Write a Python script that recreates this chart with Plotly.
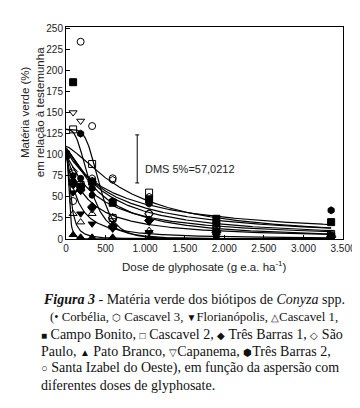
import numpy as np
import plotly.graph_objects as go

# ---- data ----
doses = [0, 90, 185, 330, 590, 1050, 1900, 3350]

biotypes = ["Corbélia", "Cascavel 3", "Florianópolis", "Cascavel 1", "Campo Bonito",
            "Cascavel 2", "Três Barras 1", "São Paulo", "Pato Branco", "Capanema",
            "Três Barras 2", "Santa Izabel do Oeste"]

corbelia      = [100, 75, 72, 52, 44, 47, 10, 5]
cascavel3     = [100, 78, 60, 72, 70, 50, 12, 6]
florianopolis = [100, 55, 30, 18, 12, 8, 4, 2]
cascavel1     = [100, 30, 20, 30, 14, 10, 2, 1]
campo_bonito  = [100, 186, 62, 68, 43, 47, 24, 20]
cascavel2     = [100, 130, 64, 89, 25, 55, 16, 6]
tres_barras1  = [100, 65, 58, 38, 15, 22, 8, 3]
sao_paulo     = [100, 80, 62, 68, 25, 30, 10, 2]
pato_branco   = [100, 5, 2, 2, 2, 1, 1, 0]
capanema      = [100, 150, 140, 35, 22, 20, 6, 4]
tres_barras2  = [100, 68, 125, 60, 45, 42, 18, 34]
santa_izabel  = [100, 45, 234, 134, 72, 30, 14, 2]

# fitted log-logistic curves y = a / (1 + (x/x50)^b)
fit_a   = [100, 108, 100, 100, 105, 110, 100, 105, 100, 130, 108, 130]
fit_x50 = [400, 500, 130, 60, 650, 800, 250, 450, 40, 300, 550, 420]
fit_b   = [1.1, 1.2, 1.3, 2.0, 1.0, 1.4, 1.1, 1.4, 3.0, 3.0, 1.1, 4.5]

dms_dose = 900
dms_low, dms_value = 66.5, 57.0212

series = [corbelia, cascavel3, florianopolis, cascavel1, campo_bonito, cascavel2,
          tres_barras1, sao_paulo, pato_branco, capanema, tres_barras2, santa_izabel]
symbols = ["circle", "hexagon-open", "triangle-down", "triangle-up-open", "square",
           "square-open", "diamond", "diamond-open", "triangle-up", "triangle-down-open",
           "hexagon", "circle-open"]
sizes = [6, 7, 7, 7, 7, 7, 7, 7, 7, 7, 7, 7]

fig = go.Figure()
xs = np.linspace(0, 3350, 400)
for a, x50, b in zip(fit_a, fit_x50, fit_b):
    ys = a / (1 + (xs / x50) ** b)
    fig.add_trace(go.Scatter(x=xs, y=ys, mode="lines",
                             line=dict(color="black", width=1.2),
                             hoverinfo="skip", showlegend=False))
for name, vals, sym_, sz in zip(biotypes, series, symbols, sizes):
    fig.add_trace(go.Scatter(x=doses, y=vals, mode="markers", name=name,
                             marker=dict(symbol=sym_, size=sz, color="black",
                                         line=dict(color="black", width=1)),
                             showlegend=False))

# DMS bar
fig.add_trace(go.Scatter(x=[dms_dose, dms_dose], y=[dms_low, dms_low + dms_value],
                         mode="lines", line=dict(color="black", width=1),
                         showlegend=False, hoverinfo="skip"))
for yv in [dms_low, dms_low + dms_value]:
    fig.add_shape(type="line", xref="x", yref="y", x0=dms_dose - 25, x1=dms_dose + 25,
                  y0=yv, y1=yv, line=dict(color="black", width=1))
fig.add_annotation(x=dms_dose + 70, y=dms_low + dms_value / 2 - 12, xref="x", yref="y",
                   text="DMS 5%=57,0212", showarrow=False, xanchor="left",
                   font=dict(family="Liberation Sans, Arial", size=11, color="#222"))

axis_font = dict(family="Liberation Sans, Arial", size=10, color="#222")
fig.update_xaxes(range=[0, 3500], tick0=0, dtick=500, separatethousands=True,
                 showline=True, linecolor="black", linewidth=1, mirror=True,
                 ticks="inside", ticklen=4, tickcolor="black", showgrid=False,
                 zeroline=False, tickfont=axis_font)
fig.update_yaxes(range=[0, 251.5], tick0=0, dtick=25,
                 showline=True, linecolor="black", linewidth=1, mirror=True,
                 ticks="inside", ticklen=4, tickcolor="black", showgrid=False,
                 zeroline=False, tickfont=axis_font)

fig.add_annotation(xref="paper", yref="paper", x=0.5, y=-0.085,
                   text="Dose de glyphosate (g e.a. ha<sup>-1</sup>)", showarrow=False,
                   yanchor="top", font=dict(family="Liberation Sans, Arial", size=11.5, color="#222"))
fig.add_annotation(xref="paper", yref="paper", x=(23.5 - 58) / (342.5 - 58), y=0.6,
                   xanchor="center", yanchor="middle",
                   text="Matéria verde (%)<br>em relação à testemunha", showarrow=False,
                   textangle=-90, font=dict(family="Liberation Sans, Arial", size=11.5, color="#222"))

def sym(ch, size=10):
    return '<span style="font-size:%dpx">%s</span>' % (size, ch)

caption = [
    (32, 14, "<b><i>Figura 3</i></b> - Matéria verde dos biótipos de <i>Conyza</i> spp."),
    (40, 12.8, "(" + sym("•", 12) + " Corbélia, " + sym("⬡") + " Cascavel 3, " + sym("▼") + "Florianópolis, "
         + sym("△") + "Cascavel 1,"),
    (30, 14, sym("■") + " Campo Bonito, " + sym("□") + " Cascavel 2, " + sym("◆") + " Três Barras 1, "
         + sym("◇") + " São"),
    (30, 14, "Paulo, " + sym("▲") + " Pato Branco, " + sym("▽") + "Capanema, " + sym("⬢") + "Três Barras 2,"),
    (30, 14, sym("○", 11) + " Santa Izabel do Oeste), em função da aspersão com"),
    (30, 14, "diferentes doses de glyphosate."),
]
line_y = [291, 308.5, 326, 343, 360, 377]
for (xp, fs, txt), yp in zip(caption, line_y):
    fig.add_annotation(xref="paper", yref="paper",
                       x=(xp - 58) / (342.5 - 58), y=(231 - yp) / (231 - 19),
                       text=txt, showarrow=False, xanchor="left", yanchor="middle",
                       font=dict(family="Liberation Serif, Times New Roman", size=fs, color="#111"))

fig.update_layout(width=360, height=408, margin=dict(l=58, r=17.5, t=19, b=177),
                  plot_bgcolor="white", paper_bgcolor="white", separators=",.",
                  showlegend=False)
fig.write_html("out.html")
